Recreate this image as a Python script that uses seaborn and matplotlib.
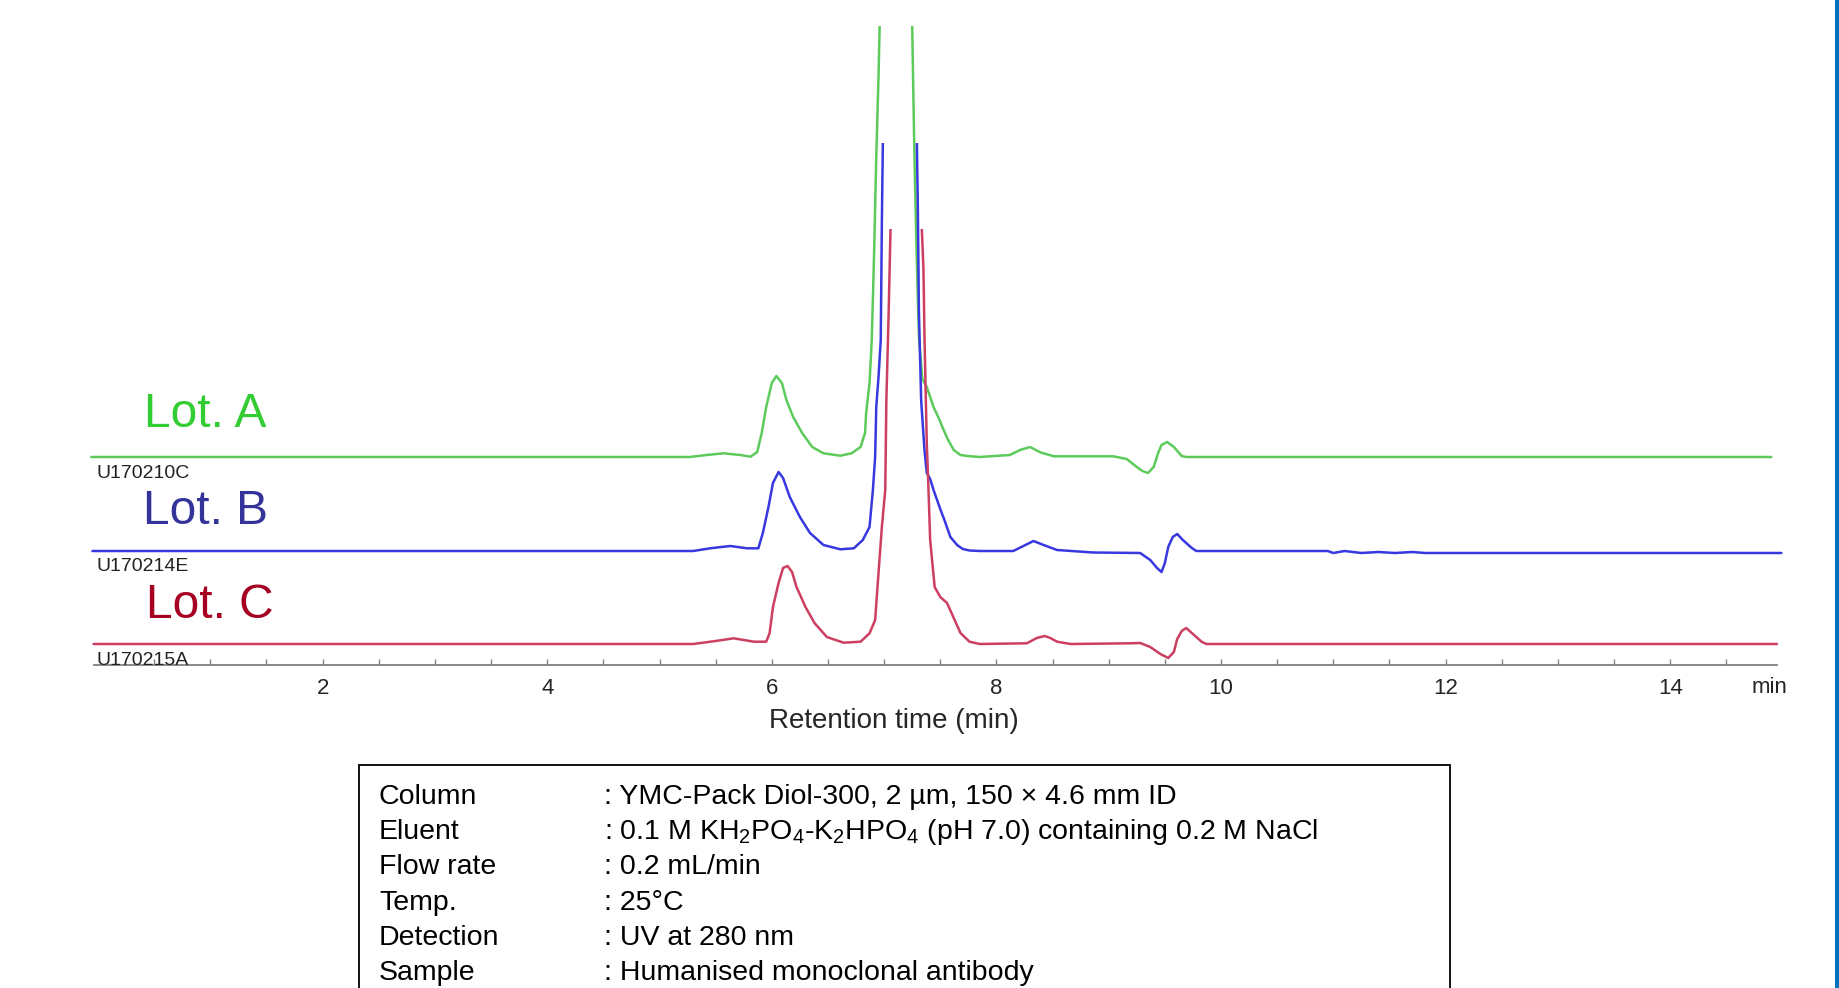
import numpy as np
import matplotlib
matplotlib.use("Agg")
import matplotlib.pyplot as plt
from matplotlib.patches import Rectangle
import seaborn as sns

# chromatogram data (time in min, signal above each baseline, arbitrary units)
lot_a_time = [-0.06, 5.27, 5.42, 5.57, 5.72, 5.81, 5.87, 5.91, 5.95, 6.00, 6.04, 6.09, 6.13, 6.19,
              6.27, 6.36, 6.46, 6.61, 6.71, 6.79, 6.83, 6.84, 6.87, 6.89, 6.91, 6.93, 6.95, 6.96,
              7.10, 7.25, 7.27, 7.29, 7.31, 7.34, 7.38, 7.44, 7.49, 7.53, 7.57, 7.62, 7.68, 7.74,
              7.85, 8.12, 8.21, 8.30, 8.39, 8.51, 9.04, 9.16, 9.25, 9.30, 9.35, 9.40, 9.44, 9.47,
              9.52, 9.58, 9.65, 9.69, 14.90]
lot_a_signal = [0, 0, 2, 3.7, 2, 0.3, 5, 24, 50, 74, 81, 74, 57, 40,
                24, 10, 3.7, 1.3, 3.7, 10, 24, 44, 74, 117, 200, 300, 380, 431,
                1200, 431, 300, 200, 120, 78, 70, 50, 38, 27, 17, 7, 2, 1,
                0, 2, 7, 10, 4.7, 0.7, 0.7, -2, -10, -14, -16, -10, 4, 12,
                15, 10, 1, 0, 0]

lot_b_time = [-0.05, 5.30, 5.45, 5.63, 5.78, 5.88, 5.92, 5.97, 6.01, 6.06, 6.10, 6.16, 6.25, 6.34,
              6.46, 6.61, 6.73, 6.81, 6.87, 6.90, 6.92, 6.93, 6.95, 6.97, 6.98, 6.99, 7.15, 7.29,
              7.30, 7.31, 7.33, 7.36, 7.38, 7.41, 7.44, 7.50, 7.54, 7.59, 7.65, 7.70, 7.76, 7.85,
              8.15, 8.24, 8.33, 8.42, 8.54, 8.86, 9.28, 9.37, 9.43, 9.47, 9.50, 9.53, 9.57, 9.61,
              9.66, 9.74, 9.78, 10.95, 11.00, 11.10, 11.25, 11.40, 11.55, 11.70, 11.82, 12.00, 14.99]
lot_b_signal = [0, 0, 2.7, 5, 2.7, 2.7, 18, 44, 68, 79, 73, 54, 34, 18,
                6, 1.7, 2.7, 11, 24, 61, 94, 144, 174, 211, 330, 420, 1000, 420,
                346, 238, 150, 100, 78, 72, 61, 42, 30, 14, 6, 2, 0.5, 0,
                0, 5, 10, 6, 1, -1.5, -2, -9, -17, -21, -12, 4, 14, 17,
                11, 3, 0, 0, -2, 0, -2, -1, -2, -1, -2, -2, -2]

lot_c_time = [-0.04, 5.30, 5.50, 5.66, 5.84, 5.95, 5.98, 6.01, 6.06, 6.10, 6.14, 6.18, 6.22, 6.30,
              6.38, 6.49, 6.64, 6.79, 6.87, 6.92, 6.95, 6.98, 7.01, 7.02, 7.04, 7.06, 7.20, 7.33,
              7.35, 7.36, 7.38, 7.39, 7.41, 7.45, 7.50, 7.53, 7.56, 7.62, 7.68, 7.76, 7.85, 8.27,
              8.36, 8.43, 8.48, 8.54, 8.66, 9.19, 9.28, 9.37, 9.46, 9.53, 9.58, 9.61, 9.65, 9.69,
              9.75, 9.83, 9.87, 14.95]
lot_c_signal = [0, 0, 3, 5.7, 2.3, 2.3, 10.7, 37, 61, 76, 78, 72, 57, 37,
                21, 7, 1.3, 2.3, 10.7, 24, 71, 117, 154, 244, 330, 430, 1000, 430,
                376, 304, 200, 171, 104, 57, 47, 44, 41, 26, 11, 2.3, 0, 0.7,
                6, 8, 6, 2.3, 0, 0.7, 1, -3, -10, -14, -8, 5, 13, 16,
                10, 2, 0, 0]

lot_names = ["Lot. A", "Lot. B", "Lot. C"]
run_ids = ["U170210C", "U170214E", "U170215A"]

cond_labels = ["Column", "Eluent", "Flow rate", "Temp.", "Detection", "Sample"]
cond_values = [": YMC-Pack Diol-300, 2 µm, 150 × 4.6 mm ID",
               r": 0.1 M KH$_\mathrm{2}$PO$_\mathrm{4}$-K$_\mathrm{2}$HPO$_\mathrm{4}$ (pH 7.0) containing 0.2 M NaCl",
               ": 0.2 mL/min",
               ": 25°C",
               ": UV at 280 nm",
               ": Humanised monoclonal antibody"]

# layout / style
W, H = 1839, 988
offsets = [208, 114, 21]          # baseline of each trace
clip_tops = [639, 522, 436]       # display ceiling of each trace
line_colors = ["#5CCB5C", "#3838E0", "#CC3F60"]
text_colors = ["#33CC33", "#333399", "#A50021"]

sns.set_theme(style="white")
plt.rcParams["font.family"] = ["Liberation Sans", "DejaVu Sans"]
plt.rcParams["mathtext.fontset"] = "custom"
plt.rcParams["mathtext.rm"] = "Liberation Sans"

fig = plt.figure(figsize=(W / 100, H / 100), dpi=100)
ax = fig.add_axes([94 / W, 1 - 665 / H, (1777 - 94) / W, 665 / H])
ax.set_xlim(-0.036, 14.951)
ax.set_ylim(0, 665)

traces = [(lot_a_time, lot_a_signal), (lot_b_time, lot_b_signal), (lot_c_time, lot_c_signal)]
for (t, s), off, top, col in zip(traces, offsets, clip_tops, line_colors):
    sns.lineplot(x=np.array(t), y=np.array(s) + off, ax=ax, color=col, lw=1.8,
                 estimator=None, sort=False)
    line = ax.lines[-1]
    rect = Rectangle((-1, -100), 20, top + 100, transform=ax.transData)
    line.set_clip_path(rect)

for sp in ["left", "top", "right"]:
    ax.spines[sp].set_visible(False)
ax.spines["bottom"].set_color("#808080")
ax.spines["bottom"].set_linewidth(1.3)
ax.set_yticks([])
ax.set_xticks([2, 4, 6, 8, 10, 12, 14])
ax.set_xticks(np.arange(0.5, 15, 0.5), minor=True)
ax.tick_params(axis="x", which="both", direction="in", length=4, width=1,
               color="#808080", labelsize=16, pad=9, bottom=True)
ax.set_xlabel("")

def ftext(x, y, s, **kw):
    fig.text(x / W, 1 - y / H, s, va="baseline", **kw)

ftext(1752, 693, "min", fontsize=16)
fig.text(894 / W, 1 - 728 / H, "Retention time (min)", ha="center", va="baseline", fontsize=20)

lot_x = [144, 143, 146]
lot_y = [427, 524, 618]
id_y = [478, 571, 665]
for name, rid, lx, ly, iy, col in zip(lot_names, run_ids, lot_x, lot_y, id_y, text_colors):
    ftext(lx, ly, name, fontsize=34.5, color=col)
    ftext(96, iy, rid, fontsize=14, color="#222222")

# conditions box
fig.add_artist(Rectangle((358.6 / W, -0.05), (1450 - 358.6) / W, (988 - 765) / H + 0.05,
                         transform=fig.transFigure, fill=False, edgecolor="black", lw=1.3))
for i, (lab, val) in enumerate(zip(cond_labels, cond_values)):
    yb = 804 + i * 35.2
    ftext(379, yb, lab, fontsize=20.5, color="black")
    ftext(604, yb, val, fontsize=20.5, color="black")

# blue edge on the right
fig.add_artist(Rectangle((1835 / W, 0), 4 / W, 1, transform=fig.transFigure,
                         color="#0070C0", lw=0))

fig.savefig("out.png", dpi=100)
